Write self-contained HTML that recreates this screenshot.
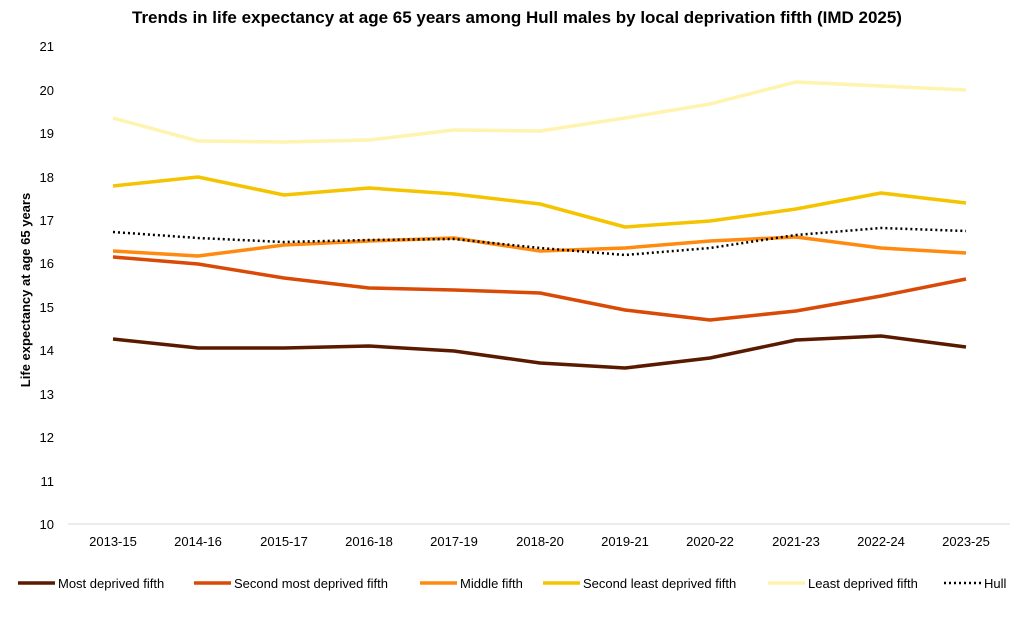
<!DOCTYPE html>
<html><head><meta charset="utf-8"><style>
body{margin:0;background:#fff;}
svg text{font-family:"Liberation Sans",Arial,sans-serif;}
</style></head><body>
<svg width="1022" height="613" xmlns="http://www.w3.org/2000/svg">
<rect width="1022" height="613" fill="#fff"/>
<text x="517" y="23" text-anchor="middle" font-size="17" font-weight="bold" fill="#000">Trends in life expectancy at  age 65 years among Hull males by local deprivation fifth (IMD 2025)</text>
<g font-size="13" fill="#000" text-anchor="end">
<text x="54" y="529">10</text><text x="54" y="486">11</text><text x="54" y="442">12</text><text x="54" y="399">13</text><text x="54" y="355">14</text><text x="54" y="312">15</text><text x="54" y="268">16</text><text x="54" y="225">17</text><text x="54" y="182">18</text><text x="54" y="138">19</text><text x="54" y="95">20</text><text x="54" y="51">21</text>
</g>
<text transform="translate(30,290) rotate(-90)" text-anchor="middle" font-size="13" font-weight="bold" fill="#000">Life expectancy at  age 65 years</text>
<line x1="68" y1="524" x2="1010" y2="524" stroke="#d9d9d9" stroke-width="1"/>
<g font-size="13" fill="#000" text-anchor="middle">
<text x="113" y="546">2013-15</text><text x="198" y="546">2014-16</text><text x="284" y="546">2015-17</text><text x="369" y="546">2016-18</text><text x="454" y="546">2017-19</text><text x="540" y="546">2018-20</text><text x="625" y="546">2019-21</text><text x="710" y="546">2020-22</text><text x="796" y="546">2021-23</text><text x="881" y="546">2022-24</text><text x="966" y="546">2023-25</text>
</g>
<g fill="none" stroke-width="3.5" stroke-linejoin="round">
<polyline stroke="#fff3b0" points="113,118 198,141 284,142 369,140 454,130 540,131 625,118 710,104 796,82 881,86 966,90"/>
<polyline stroke="#f5c400" points="113,186 198,177 284,195 369,188 454,194 540,204 625,227 710,221 796,209 881,193 966,203"/>
<polyline stroke="#ff8a10" points="113,251 198,256 284,245 369,241 454,238 540,251 625,248 710,241 796,237 881,248 966,253"/>
<polyline stroke="#d84a06" points="113,257 198,264 284,278 369,288 454,290 540,293 625,310 710,320 796,311 881,296 966,279"/>
<polyline stroke="#5a1a00" points="113,339 198,348 284,348 369,346 454,351 540,363 625,368 710,358 796,340 881,336 966,347"/>
<polyline stroke="#000" stroke-width="2.5" stroke-dasharray="2,3" points="113,232 198,238 284,242 369,240 454,239 540,248 625,255 710,248 796,235 881,228 966,231"/>
</g>
<g font-size="13" fill="#000">
<line x1="18" y1="583" x2="55" y2="583" stroke="#5a1a00" stroke-width="3.5"/><text x="58" y="588">Most deprived fifth</text>
<line x1="194" y1="583" x2="231" y2="583" stroke="#d84a06" stroke-width="3.5"/><text x="234" y="588">Second most deprived fifth</text>
<line x1="420" y1="583" x2="457" y2="583" stroke="#ff8a10" stroke-width="3.5"/><text x="460" y="588">Middle fifth</text>
<line x1="543" y1="583" x2="580" y2="583" stroke="#f5c400" stroke-width="3.5"/><text x="583" y="588">Second least deprived fifth</text>
<line x1="768" y1="583" x2="805" y2="583" stroke="#fff3b0" stroke-width="3.5"/><text x="808" y="588">Least deprived fifth</text>
<line x1="944" y1="583" x2="981" y2="583" stroke="#000" stroke-width="2.5" stroke-dasharray="2,3"/><text x="984" y="588">Hull</text>
</g>
</svg>
</body></html>
